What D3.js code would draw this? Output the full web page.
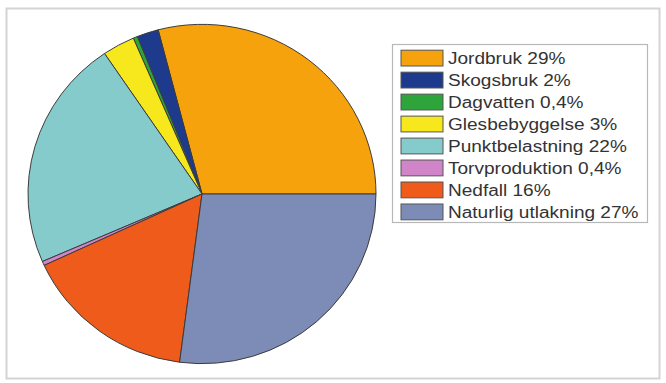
<!DOCTYPE html>
<html>
<head>
<meta charset="utf-8">
<script src="https://cdn.jsdelivr.net/npm/d3@7"></script>
<style>
  body { margin: 0; background: #fff; }
  svg { display: block; }
</style>
</head>
<body>
<svg id="chart" width="666" height="383"></svg>
<script>
// data
var categories = ["Jordbruk", "Skogsbruk", "Dagvatten", "Glesbebyggelse",
  "Punktbelastning", "Torvproduktion", "Nedfall", "Naturlig utlakning"];
var values = [29, 2, 0.4, 3, 22, 0.4, 16, 27];
var labels = ["Jordbruk 29%", "Skogsbruk 2%", "Dagvatten 0,4%", "Glesbebyggelse 3%",
  "Punktbelastning 22%", "Torvproduktion 0,4%", "Nedfall 16%", "Naturlig utlakning 27%"];
var colors = ["#f5a20c", "#1d3a8c", "#2ea53a", "#f6e81c",
  "#86cbcc", "#d085c9", "#ee5b1b", "#7d8cb6"];

var svg = d3.select("#chart");

// outer frame
svg.append("rect")
  .attr("x", 6.5).attr("y", 8.5)
  .attr("width", 653).attr("height", 370)
  .attr("fill", "none")
  .attr("stroke", "#d4d4d4")
  .attr("stroke-width", 2);

var color = d3.scaleOrdinal().domain(categories).range(colors);

// pie starts at 3 o'clock and runs counter-clockwise in legend order
var pie = d3.pie()
  .sort(null)
  .value(function (d, i) { return values[i]; })
  .startAngle(Math.PI / 2)
  .endAngle(Math.PI / 2 - 2 * Math.PI);

var arc = d3.arc().innerRadius(0).outerRadius(174);

var g = svg.append("g")
  .attr("transform", "translate(202,194) scale(1,0.975)");

g.selectAll("path")
  .data(pie(categories))
  .enter().append("path")
  .attr("d", arc)
  .attr("fill", function (d) { return color(d.data); })
  .attr("stroke", "#3a3a3a")
  .attr("stroke-width", 1)
  .attr("stroke-linejoin", "round");

// legend
var legend = svg.append("g").attr("transform", "translate(392,44)");

legend.append("rect")
  .attr("x", 0.5).attr("y", 0.5)
  .attr("width", 255).attr("height", 178)
  .attr("fill", "#fff")
  .attr("stroke", "#b8b8b8")
  .attr("stroke-width", 1.2);

var y = d3.scaleBand().domain(categories).range([4, 178]).paddingInner(0.28).paddingOuter(0.1);

var item = legend.selectAll(".item")
  .data(categories)
  .enter().append("g")
  .attr("class", "item")
  .attr("transform", function (d) { return "translate(9," + y(d) + ")"; });

item.append("rect")
  .attr("width", 42)
  .attr("height", y.bandwidth())
  .attr("fill", function (d) { return color(d); })
  .attr("stroke", "#555")
  .attr("stroke-width", 1);

item.append("text")
  .attr("transform", "translate(47," + (y.bandwidth() / 2) + ") scale(1.19,1)")
  .attr("dy", "0.36em")
  .attr("font-family", "Liberation Sans, Arial, sans-serif")
  .attr("font-size", 16)
  .attr("fill", "#333")
  .text(function (d, i) { return labels[i]; });
</script>
</body>
</html>
